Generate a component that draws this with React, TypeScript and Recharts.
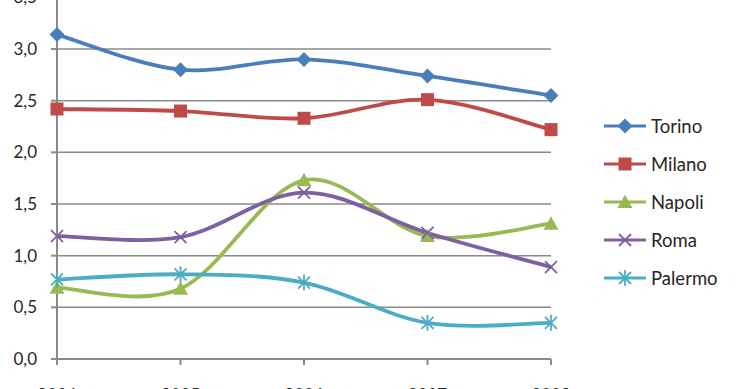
import React from "react";
import { LineChart, Line, XAxis, YAxis, CartesianGrid } from "recharts";

const years = ["2004", "2005", "2006", "2007", "2008"];
const torino = [3.14, 2.8, 2.9, 2.74, 2.55];
const milano = [2.42, 2.4, 2.33, 2.51, 2.22];
const napoli = [0.69, 0.68, 1.73, 1.19, 1.31];
const roma = [1.19, 1.18, 1.61, 1.22, 0.89];
const palermo = [0.77, 0.82, 0.74, 0.35, 0.35];
const yTicks = [0, 0.5, 1, 1.5, 2, 2.5, 3, 3.5];

const data = years.map((y, i) => ({
  year: y,
  Torino: torino[i],
  Milano: milano[i],
  Napoli: napoli[i],
  Roma: roma[i],
  Palermo: palermo[i],
}));

const series = [
  { key: "Torino", color: "#4a7ebb", shape: "diamond" },
  { key: "Milano", color: "#be4b48", shape: "square" },
  { key: "Napoli", color: "#98b954", shape: "triangle" },
  { key: "Roma", color: "#7d60a0", shape: "x" },
  { key: "Palermo", color: "#4bacc6", shape: "star" },
];

// Excel-like smooth curve (Catmull-Rom through points)
const smoothCurve = (context: any) => {
  let pts: [number, number][] = [];
  return {
    areaStart() {},
    areaEnd() {},
    lineStart() {
      pts = [];
    },
    lineEnd() {
      if (!pts.length) return;
      context.moveTo(pts[0][0], pts[0][1]);
      for (let i = 0; i < pts.length - 1; i++) {
        const p0 = pts[Math.max(i - 1, 0)];
        const p1 = pts[i];
        const p2 = pts[i + 1];
        const p3 = pts[Math.min(i + 2, pts.length - 1)];
        context.bezierCurveTo(
          p1[0] + (p2[0] - p0[0]) / 6,
          p1[1] + (p2[1] - p0[1]) / 6,
          p2[0] - (p3[0] - p1[0]) / 6,
          p2[1] - (p3[1] - p1[1]) / 6,
          p2[0],
          p2[1]
        );
      }
    },
    point(x: number, y: number) {
      pts.push([+x, +y]);
    },
  };
};

const Marker = ({ cx, cy, shape, color }: any) => {
  if (cx == null || cy == null) return null;
  switch (shape) {
    case "diamond":
      return <polygon points={`${cx},${cy - 7.5} ${cx + 7.5},${cy} ${cx},${cy + 7.5} ${cx - 7.5},${cy}`} fill={color} />;
    case "square":
      return <rect x={cx - 6.5} y={cy - 6.5} width={13} height={13} fill={color} />;
    case "triangle":
      return <polygon points={`${cx},${cy - 7.5} ${cx + 7.5},${cy + 6} ${cx - 7.5},${cy + 6}`} fill={color} />;
    case "x":
      return (
        <g stroke={color} strokeWidth={1.8}>
          <line x1={cx - 6} y1={cy - 6} x2={cx + 6} y2={cy + 6} />
          <line x1={cx - 6} y1={cy + 6} x2={cx + 6} y2={cy - 6} />
        </g>
      );
    case "star":
      return (
        <g stroke={color} strokeWidth={1.8}>
          <line x1={cx - 6} y1={cy - 6} x2={cx + 6} y2={cy + 6} />
          <line x1={cx - 6} y1={cy + 6} x2={cx + 6} y2={cy - 6} />
          <line x1={cx} y1={cy - 8} x2={cx} y2={cy + 8} />
        </g>
      );
  }
  return null;
};

const fmt = (v: number) => v.toFixed(1).replace(".", ",");
const font = "Lato, 'Open Sans', sans-serif";

export default function App() {
  return (
    <div style={{ position: "absolute", left: 0, top: 0, width: 740, height: 389, overflow: "hidden" }}>
      <div style={{ position: "absolute", left: 0, top: -40 }}>
        <LineChart
          width={740}
          height={440}
          data={data}
          margin={{ top: 37.4, right: 189, left: 0, bottom: 11 }}
        >
          <CartesianGrid vertical={false} stroke="#8a8a8a" strokeWidth={1.5} />
          <XAxis
            dataKey="year"
            scale="point"
            padding={{ left: 0, right: 0 }}
            height={30}
            tickSize={6}
            tickMargin={24}
            axisLine={{ stroke: "#8a8a8a", strokeWidth: 2 }}
            tickLine={{ stroke: "#8a8a8a", strokeWidth: 2 }}
            tick={{ fill: "#262626", fontSize: 17, fontFamily: font }}
          />
          <YAxis
            width={57}
            domain={[0, 3.5]}
            ticks={yTicks}
            interval={0}
            tickFormatter={fmt}
            tickSize={6}
            tickMargin={14}
            axisLine={{ stroke: "#8a8a8a", strokeWidth: 2 }}
            tickLine={{ stroke: "#8a8a8a", strokeWidth: 2 }}
            tick={{ fill: "#262626", fontSize: 17, fontFamily: font }}
          />
          {series.map((s) => (
            <Line
              key={s.key}
              dataKey={s.key}
              type={smoothCurve as any}
              stroke={s.color}
              strokeWidth={3.8}
              isAnimationActive={false}
              dot={(p: any) => <Marker key={`${s.key}-${p.index}`} cx={p.cx} cy={p.cy} shape={s.shape} color={s.color} />}
              activeDot={false}
            />
          ))}
        </LineChart>
      </div>
      <div style={{ position: "absolute", left: 604, top: 107, fontFamily: font, fontSize: 18.5, color: "#262626" }}>
        {series.map((s) => (
          <div key={s.key} style={{ display: "flex", alignItems: "center", height: 38 }}>
            <svg width={42} height={20} style={{ marginRight: 5 }}>
              <line x1={0} y1={10} x2={42} y2={10} stroke={s.color} strokeWidth={3} />
              <Marker cx={21} cy={10} shape={s.shape} color={s.color} />
            </svg>
            <span>{s.key}</span>
          </div>
        ))}
      </div>
    </div>
  );
}
